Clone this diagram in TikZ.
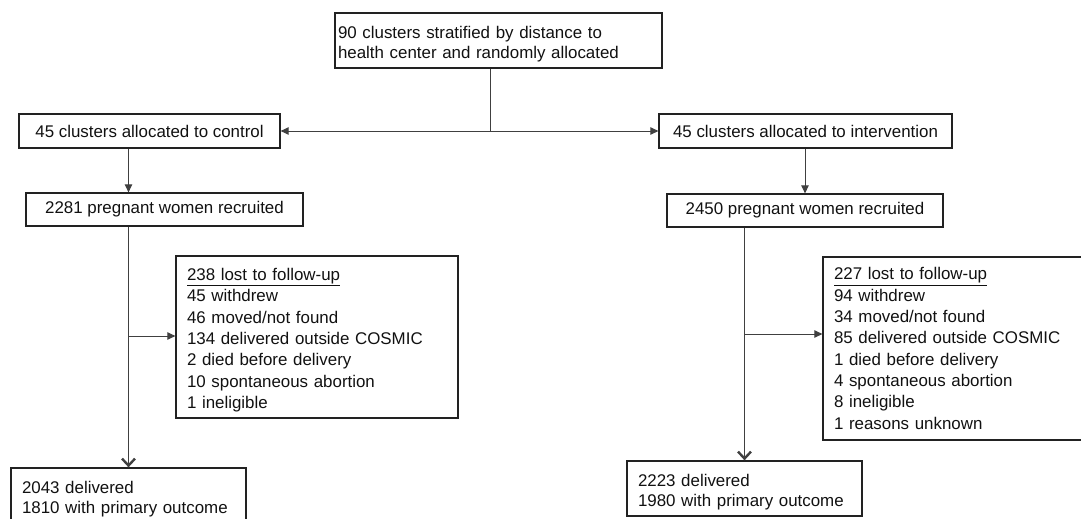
\documentclass[tikz,border=0pt]{standalone}
\usepackage{fontspec}
\setmainfont{Liberation Sans}
\usetikzlibrary{arrows.meta}
\definecolor{boxc}{HTML}{222222}
\definecolor{linec}{HTML}{404040}
\definecolor{txt}{HTML}{111111}
\newcommand{\lift}[1]{\rule{0pt}{#1}}
\tikzset{
  bx/.style={draw=boxc, line width=1.3pt, rectangle, align=left, text=txt,
    font=\fontsize{16.9}{20}\selectfont, inner ysep=0pt},
  sbx/.style={draw=boxc, line width=1.3pt, rectangle, align=center, text=txt,
    font=\fontsize{16.9}{20}\selectfont, inner sep=0pt},
  lostbox/.style={bx, font=\fontsize{16.9}{21.3}\selectfont},
  conn/.style={draw=linec, line width=1pt},
  tri/.style={conn, -{Triangle[length=8pt,width=7.5pt]}},
  barb/.style={conn, -{Straight Barb[length=7pt,width=13pt,line width=2.4pt]}},
}
\begin{document}
\begin{tikzpicture}[x=1pt,y=-1pt]
\useasboundingbox (0,0) rectangle (1081,519);
\clip (0,0) rectangle (1081,519);
% boxes
\node[bx, inner xsep=3pt, text width=321pt, minimum height=55pt] (top) at (498.5,40.5)
  {\lift{20pt}90 clusters stratified by distance to\\health center and randomly allocated};
\node[sbx, minimum width=261pt, minimum height=34pt] (ctrl) at (149.5,131)
  {45 clusters allocated to control};
\node[sbx, minimum width=293pt, minimum height=34pt] (intv) at (805.5,131)
  {45 clusters allocated to intervention};
\node[sbx, minimum width=277pt, minimum height=33pt] (rc) at (164.5,209.5)
  {2281 pregnant women recruited};
\node[sbx, minimum width=276pt, minimum height=33pt] (ri) at (805,210.5)
  {2450 pregnant women recruited};
\node[lostbox, inner xsep=11pt, text width=260pt, minimum height=162pt] (lc) at (317,337)
  {\lift{18.5pt}\underline{238 lost to follow-up}\\45 withdrew\\46 moved/not found\\134 delivered outside COSMIC\\2 died before delivery\\10 spontaneous abortion\\1 ineligible};
\node[lostbox, inner xsep=11pt, text width=255pt, minimum height=183pt] (li) at (961.5,348.5)
  {\underline{227 lost to follow-up}\\94 withdrew\\34 moved/not found\\85 delivered outside COSMIC\\1 died before delivery\\4 spontaneous abortion\\8 ineligible\\1 reasons unknown};
\node[bx, inner xsep=11pt, text width=213pt, minimum height=55pt] (dc) at (128.5,495.5)
  {\lift{19.5pt}2043 delivered\\1810 with primary outcome};
\node[bx, inner xsep=11pt, text width=213pt, minimum height=55pt] (di) at (744.5,488.5)
  {\lift{18.5pt}2223 delivered\\1980 with primary outcome};
% connectors
\coordinate (j) at (490,131);
\coordinate (bc) at (128,336);
\coordinate (bi) at (745,334);
\draw[conn] (top.south -| j) -- (j);
\draw[tri] (j) -- (ctrl.east);
\draw[tri] (j) -- (intv.west);
\draw[tri] (ctrl.south -| dc.north) -- (rc.north -| dc.north);
\draw[tri] (intv.south -| ri.north) -- (ri.north);
\draw[barb] (rc.south -| dc.north) -- (dc.north);
\draw[barb] (ri.south -| di.north) -- (di.north);
\draw[tri] (bc) -- (bc -| lc.west);
\draw[tri] (bi) -- (bi -| li.west);
\end{tikzpicture}
\end{document}
